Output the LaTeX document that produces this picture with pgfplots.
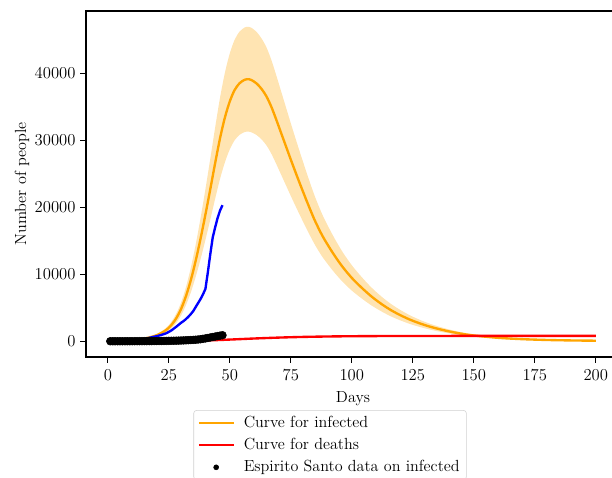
\documentclass[border=0pt]{standalone}
\usepackage{pgfplots}
\usepackage{pgfplotstable}
\pgfplotsset{compat=1.18}
\usepgfplotslibrary{fillbetween}

\definecolor{mporange}{HTML}{FFA500}
\newcommand{\myfont}{\fontsize{11.6}{13.9}\selectfont}

\pgfplotsset{
  mylineleg/.style={legend image code/.code={\draw[##1] (0pt,0pt) -- (25pt,0pt);}},
  mydotleg/.style={legend image code/.code={\draw[mark repeat=2,mark phase=2,##1,mark size=1.8pt] plot coordinates {(0pt,0pt)(12.5pt,0pt)(25pt,0pt)};}},
}

\pgfplotstableread{
d inf up lo
1 40 48 32
4 65 78 52
7 110 132 88
10 180 216 144
12 250 300 200
14 350 420 280
16 480 576 384
18 660 792 528
20 900 1080 720
22 1250 1500 1000
24 1700 2040 1360
26 2400 2880 1920
28 3400 4080 2720
30 4800 5760 3840
32 6700 8040 5360
34 9100 10920 7280
36 12000 14400 9600
38 15300 18360 12240
40 18900 22680 15120
42 22700 27240 18160
44 26600 31920 21280
46 30300 36360 24240
48 33400 40080 26720
50 35800 42960 28640
52 37500 45000 30000
54 38500 46200 30800
56 39000 46800 31200
57 39100 46920 31280
58 39080 46896 31264
59 38950 46740 31160
61 38450 46140 30760
63 37650 45180 30120
65 36550 43860 29240
67 35000 42000 28000
69 33100 39720 26480
71 31100 37320 24880
73 29100 34920 23280
75 27100 32520 21680
77 25150 30180 20120
79 23250 27900 18600
81 21400 25680 17120
83 19600 23520 15680
85 17900 21480 14320
88 15700 18840 12560
92 13300 15960 10640
96 11200 13440 8960
100 9450 11340 7560
104 8000 9600 6400
108 6700 8040 5360
112 5600 6720 4480
116 4650 5580 3720
120 3870 4644 3096
124 3200 3840 2560
128 2650 3180 2120
132 2180 2616 1744
136 1790 2148 1432
140 1460 1752 1168
145 1120 1344 896
150 860 1032 688
160 510 612 408
170 310 372 248
180 190 228 152
190 120 144 96
200 80 96 64
}\infected

\pgfplotstableread{
d v
1 0
10 2
20 10
25 20
30 40
35 75
40 120
45 175
50 250
55 330
60 410
65 480
70 545
75 600
80 645
85 680
90 710
95 732
100 750
110 772
120 784
130 790
150 795
200 800
}\deaths

\pgfplotstableread{
d v
1 150
3 150
5 150
7 150
9 150
11 155
12 170
14 250
16 420
18 600
20 750
22 950
24 1200
25 1400
26 1600
28 2150
29 2450
30 2750
31 3000
32 3300
33 3650
34 4050
35 4500
36 5100
37 5700
38 6300
39 7000
40 7800
41 10300
42 13000
43 15500
44 17000
45 18400
46 19500
47 20300
}\blueline

\pgfplotstableread{
d v
1 1
2 1
3 1
4 2
5 2
6 3
7 4
8 5
9 6
10 8
11 10
12 12
13 14
14 16
15 18
16 20
17 22
18 25
19 28
20 31
21 35
22 40
23 45
24 52
25 60
26 68
27 76
28 85
29 96
30 110
31 125
32 140
33 160
34 180
35 200
36 230
37 260
38 300
39 360
40 420
41 490
42 560
43 630
44 700
45 770
46 840
47 900
}\esdata

\begin{document}
\begin{tikzpicture}
\begin{axis}[
  name=ax,
  scale only axis,
  width=384.5pt, height=249.1pt,
  xmin=-8.95, xmax=209.95,
  ymin=-2350, ymax=49270,
  xtick={0,25,50,75,100,125,150,175,200},
  ytick={0,10000,20000,30000,40000},
  scaled y ticks=false,
  /pgf/number format/1000 sep={},
  tick pos=left,
  tick align=outside,
  major tick length=4pt,
  axis line style={line width=0.9pt},
  every tick/.style={black, line width=0.9pt},
  tick label style={font=\myfont},
  xticklabel style={yshift=-2pt},
  label style={font=\myfont},
  xlabel style={yshift=-1pt},
  ylabel shift=-3pt,
  xlabel={Days},
  ylabel={Number of people},
  legend cell align=left,
  legend style={at={(0.457,-0.1536)}, anchor=north, draw=black!18, rounded corners=2pt, font=\myfont, row sep=2.4pt, inner xsep=2.8pt,
    /tikz/every odd column/.append style={column sep=4.5pt}},
]
\addplot[name path=up, draw=none, smooth, forget plot] table[x=d, y=up] {\infected};
\addplot[name path=lo, draw=none, smooth, forget plot] table[x=d, y=lo] {\infected};
\addplot[fill=mporange, fill opacity=0.3, draw=none, forget plot] fill between[of=up and lo];
\addplot[mporange, line width=1.7pt, smooth, mylineleg] table[x=d, y=inf] {\infected};
\addlegendentry{Curve for infected}
\addplot[red, line width=1.7pt, smooth, mylineleg] table[x=d, y=v] {\deaths};
\addlegendentry{Curve for deaths}
\addplot[blue, line width=1.7pt, forget plot] table[x=d, y=v] {\blueline};
\addplot[only marks, mark=*, mark size=2.8pt, black, mydotleg] table[x=d, y=v] {\esdata};
\addlegendentry{Espirito Santo data on infected}
\end{axis}
\pgfresetboundingbox
\path[use as bounding box] ([xshift=-61.92pt,yshift=-87.12pt]ax.south west) rectangle ([xshift=378.72pt,yshift=257.04pt]ax.south west);
\end{tikzpicture}
\end{document}
